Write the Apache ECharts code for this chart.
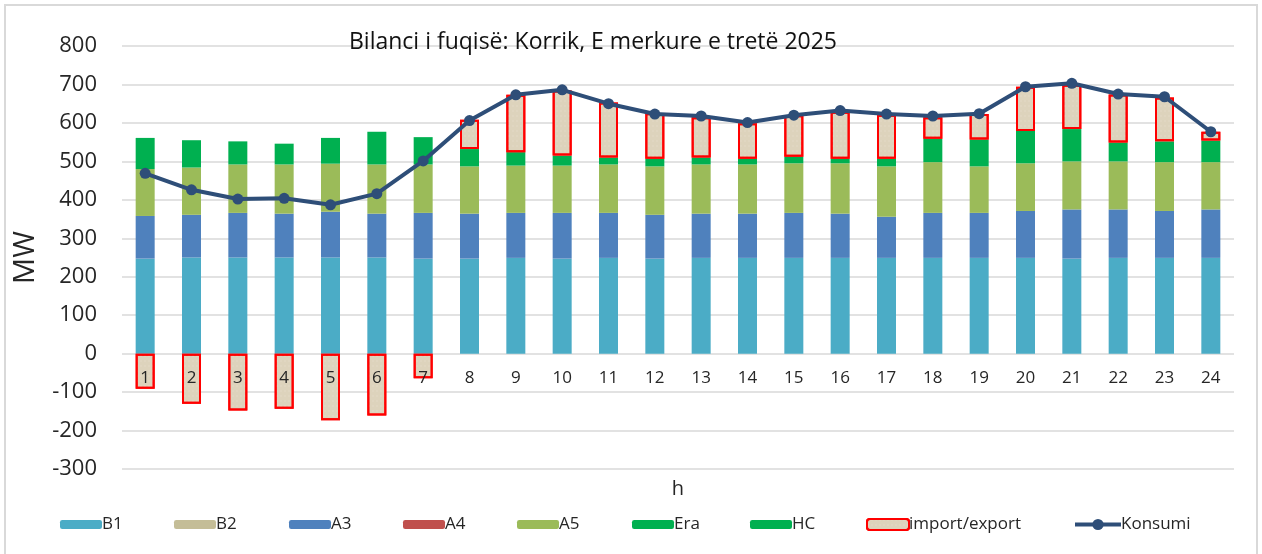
<!DOCTYPE html>
<html>
<head>
<meta charset="utf-8">
<title>Bilanci i fuqisë</title>
<script src="https://cdn.jsdelivr.net/npm/echarts@6/dist/echarts.min.js"></script>
<style>
  html, body { margin: 0; padding: 0; background: #fff; }
  #chart { width: 1262px; height: 554px; }
</style>
</head>
<body>
<div id="chart"></div>
<script>
// ore te dites
var hours = ["1","2","3","4","5","6","7","8","9","10","11","12","13","14","15","16","17","18","19","20","21","22","23","24"];

// prodhimi sipas burimit (MW)
var b1 = [247,250,250,250,250,250,247,247,249,247,249,247,249,249,249,249,249,249,249,249,247,249,249,249];
var b2 = [0,0,0,0,0,0,0,0,0,0,0,0,0,0,0,0,0,0,0,0,0,0,0,0];
var a3 = [111,111,116,114,119,114,119,117,117,119,117,114,115,115,117,115,107,117,117,122,128,126,122,126];
var a4 = [0,0,0,0,0,0,0,0,0,0,0,0,0,0,0,0,0,0,0,0,0,0,0,0];
var a5 = [122,123,126,128,125,128,126,123,123,123,126,126,128,128,129,131,131,132,121,124,125,125,127,123];
var era = [0,0,0,0,0,0,0,0,0,0,0,0,0,0,0,0,0,0,0,0,0,0,0,0];
var hc = [81,71,60,54,67,85,71,45,35,26,18,20,18,15,17,12,20,61,70,84,84,49,54,56];
var importExport = [-91,-130,-148,-143,-173,-161,-64,76,149,169,143,118,105,92,108,122,114,56,66,115,115,125,114,23];
var konsumi = [469,426,402,404,387,416,501,606,673,686,650,623,618,601,620,632,623,618,624,694,703,675,668,577];

var yTicks = { min: -300, max: 800, interval: 100 };

var font = "'Open Sans', sans-serif";
var txt = "#262626";

var myChart = echarts.init(document.getElementById("chart"));

function barSerie(name, data, color) {
  return {
    name: name,
    type: "bar",
    stack: "total",
    barWidth: 19,
    data: data,
    itemStyle: { color: color },
    emphasis: { disabled: true },
  };
}

// nje legjende per cdo element, si ne Excel
var legendNames = ["B1", "B2", "A3", "A4", "A5", "Era", "HC", "import/export", "Konsumi"];
var legendLeft = [55, 169, 284, 398, 512, 627, 745, 861, 1068];
var legends = legendNames.map(function (n, i) {
  var isLine = n === "Konsumi";
  return {
    data: [n],
    left: legendLeft[i],
    top: 511,
    itemWidth: isLine ? 46 : 42,
    itemHeight: isLine ? 14 : n === "import/export" ? 11 : 9,
    itemGap: 0,
    lineStyle: { width: 4 },
    textStyle: { fontFamily: font, fontSize: 17, color: txt, padding: [0, 0, 0, -5] },
  };
});

var option = {
  backgroundColor: "#fff",
  animation: false,
  title: {
    text: "Bilanci i fuqisë: Korrik, E merkure e tretë 2025",
    left: 344,
    top: 26,
    textStyle: { fontFamily: font, fontSize: 23, fontWeight: "normal", color: "#111" },
  },
  graphic: [
    {
      type: "rect",
      shape: { x: 5, y: 5, width: 1252, height: 560 },
      style: { fill: "none", stroke: "#D9D9D9", lineWidth: 2 },
      silent: true,
    },
  ],
  legend: legends,
  grid: { left: 122, right: 28, top: 46, bottom: 85, containLabel: false, outerBoundsMode: "none" },
  xAxis: {
    type: "category",
    data: hours,
    z: 10,
    // boshti kalon ne vleren 0 (469 - 354 px)
    offset: -115,
    axisLine: { show: false, onZero: false },
    axisTick: { show: false },
    axisLabel: { fontFamily: font, fontSize: 17, color: txt, margin: 16 },
    name: "h",
    nameLocation: "middle",
    nameGap: 125,
    nameTextStyle: { fontFamily: font, fontSize: 20, color: txt, verticalAlign: "top" },
  },
  yAxis: {
    type: "value",
    min: yTicks.min,
    max: yTicks.max,
    interval: yTicks.interval,
    axisLine: { show: false },
    axisTick: { show: false },
    splitLine: { lineStyle: { color: "#D9D9D9", width: 1.5 } },
    axisLabel: { fontFamily: font, fontSize: 22, color: txt, margin: 25 },
    name: "MW",
    nameLocation: "middle",
    nameGap: 82,
    nameTextStyle: { fontFamily: font, fontSize: 29, color: txt },
  },
  series: [
    barSerie("B1", b1, "#4BACC6"),
    barSerie("B2", b2, "#C4BD97"),
    barSerie("A3", a3, "#4F81BD"),
    barSerie("A4", a4, "#C0504D"),
    barSerie("A5", a5, "#9BBB59"),
    barSerie("Era", era, "#00B050"),
    barSerie("HC", hc, "#00B050"),
    {
      name: "import/export",
      type: "bar",
      stack: "total",
      barWidth: 19,
      data: importExport,
      itemStyle: {
        color: "#DDD3BC",
        borderColor: "#FF0000",
        borderWidth: 2,
        decal: {
          symbol: "rect",
          symbolSize: 0.5,
          color: "rgba(255,255,255,0.35)",
          dashArrayX: [2, 2],
          dashArrayY: [2, 3],
        },
      },
      emphasis: { disabled: true },
    },
    {
      name: "Konsumi",
      type: "line",
      data: konsumi,
      z: 5,
      symbol: "circle",
      symbolSize: 11,
      lineStyle: { color: "#2E4E78", width: 4 },
      itemStyle: { color: "#2E4E78" },
      emphasis: { disabled: true },
    },
  ],
};

myChart.setOption(option);
</script>
</body>
</html>
